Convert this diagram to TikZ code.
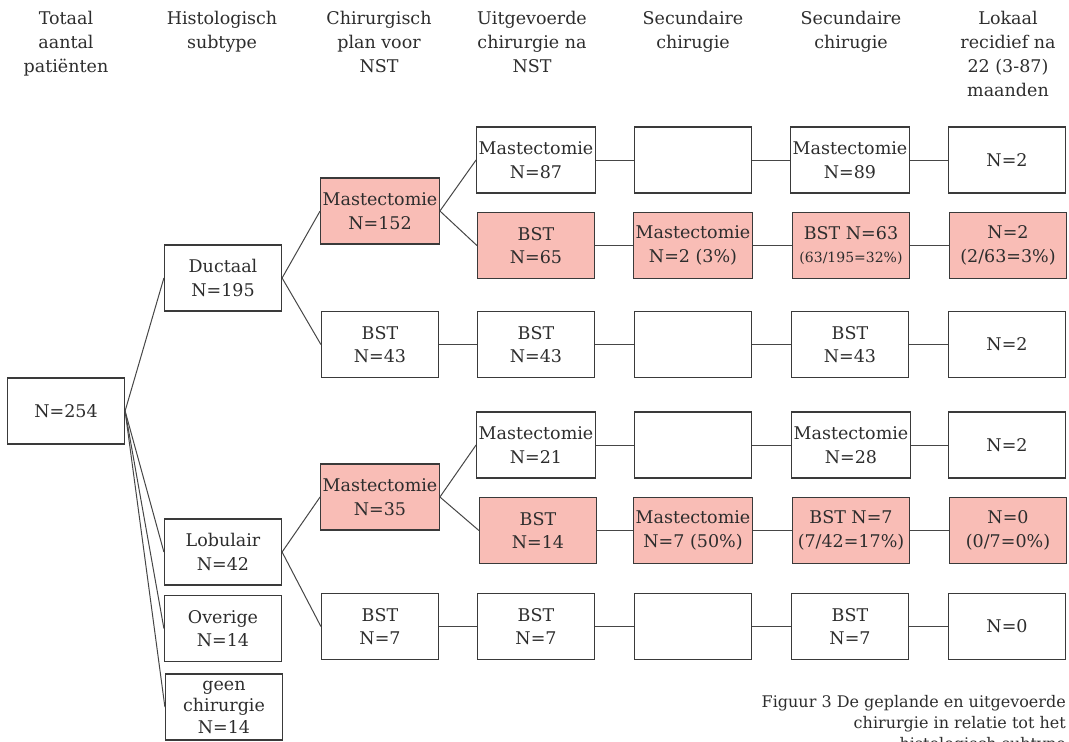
\documentclass[tikz,border=0pt]{standalone}
\usepackage{fontspec}
\setmainfont{DejaVu Serif}
\definecolor{pinkfill}{RGB}{249,189,182}
\definecolor{linegray}{RGB}{58,58,58}
\definecolor{conngray}{RGB}{70,70,70}
\definecolor{textgray}{RGB}{45,45,45}
\begin{document}
\begin{tikzpicture}[x=1pt,y=-1pt,
  every node/.style={text=textgray},
  box/.style={draw=linegray, line width=1.2pt, minimum width=117pt, minimum height=66pt,
    inner sep=2pt, align=center, font=\fontsize{17.5}{23.5}\selectfont},
  redbox/.style={box, fill=pinkfill},
  head/.style={anchor=north, inner sep=0pt, align=center, font=\fontsize{17.5}{24}\selectfont},
  conn/.style={draw=conngray, line width=1pt}
]
\useasboundingbox (0,0) rectangle (1069,742);

% headers
\node[head] (h1) at (66,11) {Totaal\\aantal\\patiënten};
\node[head] (h2) at (222,11) {Histologisch\\subtype};
\node[head] (h3) at (379,11) {Chirurgisch\\plan voor\\NST};
\node[head] (h4) at (532,11) {Uitgevoerde\\chirurgie na\\NST};
\node[head] (h5) at (693,11) {Secundaire\\chirugie};
\node[head] (h6) at (851,11) {Secundaire\\chirugie};
\node[head] (h7) at (1008,11) {Lokaal\\recidief na\\22 (3-87)\\maanden};

% column 1 and 2
\node[box] (n254) at (66,411) {N=254};
\node[box] (duct) at (223,278) {Ductaal\\N=195};
\node[box] (lob) at (223,552) {Lobulair\\N=42};
\node[box] (ovg) at (223,628.5) {Overige\\N=14};
\node[box, font=\fontsize{17.5}{21.5}\selectfont] (geen) at (224,707) {geen\\chirurgie\\N=14};

% column 3
\node[redbox] (m152) at (380,211) {Mastectomie\\N=152};
\node[box] (bst43) at (380,344.5) {BST\\N=43};
\node[redbox] (m35) at (380,497) {Mastectomie\\N=35};
\node[box] (bst7a) at (380,626.5) {BST\\N=7};

% column 4
\node[box] (m87) at (536,160) {Mastectomie\\N=87};
\node[redbox] (bst65) at (536,245.5) {BST\\N=65};
\node[box] (bst43b) at (536,344.5) {BST\\N=43};
\node[box] (m21) at (536,445) {Mastectomie\\N=21};
\node[redbox] (bst14) at (538,530.5) {BST\\N=14};
\node[box] (bst7b) at (536,626.5) {BST\\N=7};

% column 5
\node[box] (e1) at (693,160) {};
\node[redbox] (m2) at (693,245.5) {Mastectomie\\N=2 (3\%)};
\node[box] (e3) at (693,344.5) {};
\node[box] (e4) at (693,445) {};
\node[redbox] (m7) at (693,530.5) {Mastectomie\\N=7 (50\%)};
\node[box] (e6) at (693,626.5) {};

% column 6
\node[box] (m89) at (850,160) {Mastectomie\\N=89};
\node[redbox] (bst63) at (851,245.5) {BST N=63\\{\fontsize{14}{20}\selectfont(63/195=32\%)}};
\node[box] (bst43c) at (850,344.5) {BST\\N=43};
\node[box] (m28) at (851,445) {Mastectomie\\N=28};
\node[redbox] (bst7c) at (851,530.5) {BST N=7\\(7/42=17\%)};
\node[box] (bst7d) at (850,626.5) {BST\\N=7};

% column 7
\node[box] (r1) at (1007,160) {N=2};
\node[redbox] (r2) at (1008,245.5) {N=2\\(2/63=3\%)};
\node[box] (r3) at (1007,344.5) {N=2};
\node[box] (r4) at (1007,445) {N=2};
\node[redbox] (r5) at (1008,530.5) {N=0\\(0/7=0\%)};
\node[box] (r6) at (1007,626.5) {N=0};

% connectors
\draw[conn] (n254.east) -- (duct.west);
\draw[conn] (n254.east) -- (lob.west);
\draw[conn] (n254.east) -- (ovg.west);
\draw[conn] (n254.east) -- (geen.west);
\draw[conn] (duct.east) -- (m152.west);
\draw[conn] (duct.east) -- (bst43.west);
\draw[conn] (lob.east) -- (m35.west);
\draw[conn] (lob.east) -- (bst7a.west);
\draw[conn] (m152.east) -- (m87.west);
\draw[conn] (m152.east) -- (bst65.west);
\draw[conn] (bst43.east) -- (bst43b.west);
\draw[conn] (m35.east) -- (m21.west);
\draw[conn] (m35.east) -- (bst14.west);
\draw[conn] (bst7a.east) -- (bst7b.west);

\draw[conn] (m87.east) -- (e1.west);
\draw[conn] (e1.east) -- (m89.west);
\draw[conn] (m89.east) -- (r1.west);
\draw[conn] (bst65.east) -- (m2.west);
\draw[conn] (m2.east) -- (bst63.west);
\draw[conn] (bst63.east) -- (r2.west);
\draw[conn] (bst43b.east) -- (e3.west);
\draw[conn] (e3.east) -- (bst43c.west);
\draw[conn] (bst43c.east) -- (r3.west);
\draw[conn] (m21.east) -- (e4.west);
\draw[conn] (e4.east) -- (m28.west);
\draw[conn] (m28.east) -- (r4.west);
\draw[conn] (bst14.east) -- (m7.west);
\draw[conn] (m7.east) -- (bst7c.west);
\draw[conn] (bst7c.east) -- (r5.west);
\draw[conn] (bst7b.east) -- (e6.west);
\draw[conn] (e6.east) -- (bst7d.west);
\draw[conn] (bst7d.east) -- (r6.west);

% caption
\node[anchor=north east, inner sep=0pt, align=right, font=\fontsize{16}{21}\selectfont] (cap) at (1066,695)
  {Figuur 3 De geplande en uitgevoerde\\chirurgie in relatie tot het\\histologisch subtype};
\end{tikzpicture}
\end{document}
